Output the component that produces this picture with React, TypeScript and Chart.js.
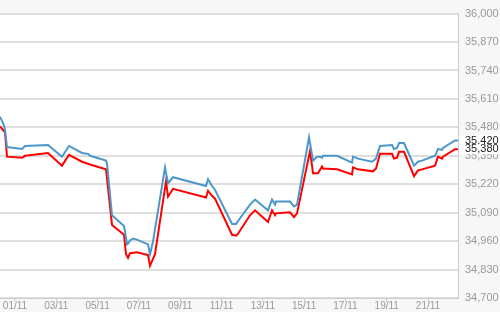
import React, { useEffect, useRef } from "react";
import { Chart, registerables } from "chart.js";

Chart.register(...registerables);

// x values are day-of-month (November), fractional
const blueTimes = [0.274, 0.419, 0.516, 0.613, 1.339, 1.485, 2.598, 3.276, 3.615, 4.245, 4.536, 4.632, 5.407, 5.456, 5.698, 6.279, 6.327, 6.424, 6.473, 6.57, 6.715, 6.908, 7.441, 7.538, 7.683, 8.264, 8.41, 8.652, 10.25, 10.347, 10.54, 10.686, 11.509, 11.703, 11.8, 12.38, 12.623, 13.252, 13.446, 13.591, 13.64, 14.318, 14.511, 14.657, 15.238, 15.432, 15.625, 15.77, 15.867, 15.916, 16.594, 17.32, 17.368, 17.61, 18.288, 18.482, 18.676, 19.257, 19.354, 19.5, 19.596, 19.838, 20.323, 20.516, 20.71, 21.34, 21.485, 21.678, 21.727, 22.307, 22.452];
const blueValues = [35528, 35501, 35470, 35390, 35381, 35395, 35399, 35346, 35395, 35363, 35359, 35350, 35328, 35314, 35078, 35029, 35003, 34945, 34949, 34963, 34972, 34967, 34945, 34900, 34958, 35297, 35225, 35252, 35212, 35243, 35212, 35194, 35038, 35038, 35052, 35127, 35150, 35101, 35150, 35127, 35141, 35141, 35119, 35127, 35435, 35328, 35346, 35346, 35341, 35350, 35350, 35319, 35346, 35337, 35323, 35337, 35395, 35399, 35381, 35386, 35408, 35408, 35305, 35323, 35328, 35350, 35381, 35377, 35386, 35420, 35420];

const redTimes = [0.274, 0.516, 0.613, 1.339, 1.485, 2.598, 3.276, 3.615, 4.245, 4.632, 5.407, 5.698, 6.279, 6.376, 6.473, 6.57, 6.908, 7.441, 7.538, 7.78, 8.313, 8.41, 8.652, 10.25, 10.347, 10.54, 10.686, 11.509, 11.703, 11.8, 12.38, 12.623, 13.252, 13.446, 13.591, 13.64, 14.318, 14.511, 14.657, 15.286, 15.432, 15.673, 15.867, 15.916, 16.594, 17.32, 17.368, 17.61, 18.337, 18.482, 18.676, 19.257, 19.354, 19.5, 19.596, 19.838, 20.323, 20.516, 20.71, 21.34, 21.485, 21.678, 21.727, 22.307, 22.452];
const redValues = [35484, 35457, 35346, 35341, 35350, 35363, 35305, 35354, 35323, 35310, 35288, 35034, 34989, 34900, 34883, 34905, 34909, 34896, 34847, 34900, 35234, 35163, 35199, 35159, 35190, 35167, 35154, 34989, 34985, 34994, 35078, 35101, 35047, 35101, 35078, 35087, 35092, 35070, 35087, 35372, 35270, 35270, 35301, 35292, 35288, 35265, 35297, 35288, 35279, 35292, 35359, 35359, 35337, 35341, 35368, 35368, 35257, 35283, 35288, 35305, 35346, 35337, 35346, 35380, 35380];

const xTickDays = [1, 3, 5, 7, 9, 11, 13, 15, 17, 19, 21];
const yMin = 34700;
const yMax = 36000;
const yStep = 130;

const BLUE = "#4b97c9";
const RED = "#ff0000";

const fmt = (v: number) => Math.round(v).toLocaleString("en-US");

export default function App() {
  const ref = useRef<HTMLCanvasElement | null>(null);

  useEffect(() => {
    if (!ref.current) return;
    const bgPlugin = {
      id: "bg",
      beforeDraw(chart: any) {
        const { ctx, chartArea } = chart;
        ctx.save();
        ctx.fillStyle = "#f7f7f7";
        ctx.fillRect(0, 0, chart.width, chart.height);
        ctx.fillStyle = "#ffffff";
        ctx.fillRect(chartArea.left, chartArea.top, chartArea.right - chartArea.left, chartArea.bottom - chartArea.top);
        ctx.restore();
      },
    };
    const lastLabelPlugin = {
      id: "lastLabels",
      afterDraw(chart: any) {
        const { ctx } = chart;
        const yScale = chart.scales.y;
        const left = chart.chartArea.right + 1;
        ctx.save();
        chart.data.datasets.forEach((ds: any) => {
          const last = ds.data[ds.data.length - 1].y;
          const py = yScale.getPixelForValue(last);
          ctx.fillStyle = "#ffffff";
          ctx.fillRect(left, py - 5, chart.width - left, 10);
          ctx.fillStyle = "#222222";
          ctx.font = "11px 'Liberation Sans', Arial, sans-serif";
          ctx.textAlign = "left";
          ctx.textBaseline = "middle";
          ctx.fillText(fmt(last), left + 6, py);
        });
        ctx.restore();
      },
    };
    const chart = new Chart(ref.current, {
      type: "line",
      data: {
        datasets: [
          {
            label: "Blue",
            data: blueTimes.map((t, i) => ({ x: t, y: blueValues[i] })),
            borderColor: BLUE,
            borderWidth: 2,
            pointRadius: 0,
            tension: 0,
            fill: false,
          },
          {
            label: "Red",
            data: redTimes.map((t, i) => ({ x: t, y: redValues[i] })),
            borderColor: RED,
            borderWidth: 2,
            pointRadius: 0,
            tension: 0,
            fill: false,
          },
        ],
      },
      options: {
        animation: false,
        responsive: false,
        maintainAspectRatio: false,
        layout: { padding: { top: 6, left: 0, right: 0, bottom: 0 } },
        plugins: { legend: { display: false }, tooltip: { enabled: false } },
        scales: {
          x: {
            type: "linear",
            min: blueTimes[0],
            max: blueTimes[blueTimes.length - 1],
            afterBuildTicks: (scale: any) => {
              scale.ticks = xTickDays.map((d) => ({ value: d }));
            },
            afterFit: (scale: any) => {
              scale.height = 14;
            },
            grid: { drawOnChartArea: false, drawTicks: true, tickLength: 4, color: "#cccccc" },
            border: { display: true, color: "#cccccc", width: 1 },
            ticks: {
              autoSkip: false,
              maxRotation: 0,
              padding: -2,
              color: "#999999",
              font: { family: "'Liberation Sans', Arial, sans-serif", size: 10 },
              callback: (v: any) => String(v).padStart(2, "0") + "/11",
            },
          },
          y: {
            position: "right",
            min: yMin,
            max: yMax,
            afterFit: (scale: any) => {
              scale.width = 42;
            },
            afterBuildTicks: (scale: any) => {
              const t = [];
              for (let v = yMin; v <= yMax; v += yStep) t.push({ value: v });
              scale.ticks = t;
            },
            grid: { color: "#dedede", lineWidth: 2, drawTicks: false },
            border: { display: true, color: "#cccccc", width: 1 },
            ticks: {
              padding: 7,
              color: "#999999",
              font: { family: "'Liberation Sans', Arial, sans-serif", size: 11 },
              callback: (v: any) => fmt(Number(v)),
            },
          },
        },
      },
      plugins: [bgPlugin, lastLabelPlugin],
    });
    return () => chart.destroy();
  }, []);

  return (
    <div style={{ position: "absolute", left: 0, top: 0, width: 500, height: 312 }}>
      <canvas ref={ref} width={500} height={312} style={{ display: "block" }} />
    </div>
  );
}
